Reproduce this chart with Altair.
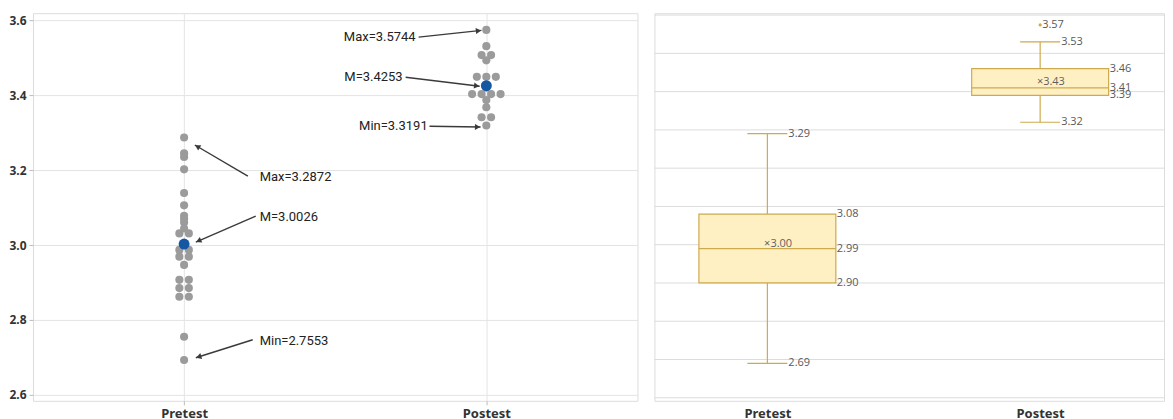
import math
import altair as alt
import pandas as pd

# ---------------- data ----------------
groups = ["Pretest", "Postest"]

pre_values = [3.2872, 3.245, 3.235, 3.202, 3.139, 3.106, 3.078, 3.070, 3.060,
              3.044, 3.031, 3.031, 2.987, 2.987, 2.969, 2.969, 2.947,
              2.907, 2.907, 2.885, 2.885, 2.862, 2.862, 2.755, 2.693]
post_values = [3.5744, 3.531, 3.507, 3.507, 3.493, 3.449, 3.449, 3.449, 3.420,
               3.403, 3.403, 3.403, 3.403, 3.387, 3.368, 3.341, 3.341, 3.3191]
group_means = [3.0026, 3.4253]

# annotations (label text, label anchor, arrow tail, arrow head) in data units
ann_text = ["Max=3.2872", "M=3.0026", "Min=2.7553", "Max=3.5744", "M=3.4253", "Min=3.3191"]
ann_align = ["left", "left", "left", "right", "right", "right"]
ann_tx = [0.250, 0.250, 0.250, 0.766, 0.723, 0.806]
ann_ty = [3.181, 3.075, 2.744, 3.555, 3.448, 3.317]
arr_x1 = [0.211, 0.237, 0.227, 0.776, 0.733, 0.812]
arr_y1 = [3.184, 3.077, 2.747, 3.555, 3.448, 3.317]
arr_x2 = [0.0355, 0.0388, 0.0388, 0.984, 0.978, 0.981]
arr_y2 = [3.267, 3.008, 2.699, 3.573, 3.424, 3.315]

# box plot statistics (right panel)
box_low = [2.69, 3.32]
box_q1 = [2.90, 3.39]
box_median = [2.99, 3.41]
box_q3 = [3.08, 3.46]
box_high = [3.29, 3.53]
box_mean = [3.0026, 3.4253]
outlier_group = [1]
outlier_value = [3.5744]
right_grid = [2.6, 2.7, 2.8, 2.9, 3.0, 3.1, 3.2, 3.3, 3.4, 3.5, 3.6]

# ---------------- layout constants ----------------
W1, H1 = 605, 388
XD1 = [-0.5, 1.5]
YD1 = [2.584, 3.619]
W2, H2 = 510, 388
XD2 = [-0.414, 1.454]
YD2 = [2.592, 3.605]
HALF_BOX = 0.251
HALF_CAP = 0.0733

GRAY = "#9b9b9b"
BLUE = "#1657a3"
BOX_FILL = "#FFF0C4"
BOX_STROKE = "#CDAA4E"

xpx1 = W1 / (XD1[1] - XD1[0])
ypx1 = H1 / (YD1[1] - YD1[0])


def dot_rows(values, step_px):
    """tied values are laid side by side, centred on the group line"""
    counts = {}
    for v in values:
        counts[v] = counts.get(v, 0) + 1
    seen = {}
    offs = []
    for v in values:
        j = seen.get(v, 0)
        seen[v] = j + 1
        n = counts[v]
        offs.append((j - (n - 1) / 2) * step_px / xpx1)
    return offs


rows = []
for gi, vals in enumerate([pre_values, post_values]):
    for v, o in zip(vals, dot_rows(vals, 9.5)):
        rows.append({"x": gi + o, "y": v})
pts = pd.DataFrame(rows)
means_df = pd.DataFrame({"x": [0, 1], "y": group_means})

ann_df = pd.DataFrame({"text": ann_text, "align": ann_align, "x": ann_tx, "y": ann_ty})
arr_rows = []
for a, b, c, d in zip(arr_x1, arr_y1, arr_x2, arr_y2):
    dxp = (c - a) * xpx1
    dyp = -(d - b) * ypx1
    ang = math.degrees(math.atan2(dxp, -dyp)) % 360
    L = math.hypot(dxp, dyp)
    back = 3.0
    hx = c - (dxp / L) * back / xpx1
    hy = d + (dyp / L) * back / ypx1
    arr_rows.append({"x1": a, "y1": b, "x2": c, "y2": d, "hx": hx, "hy": hy, "ang": ang})
arr_df = pd.DataFrame(arr_rows)

label_expr = "datum.value == 0 ? 'Pretest' : 'Postest'"

# ---------------- left panel ----------------
xs1 = alt.Scale(domain=XD1, nice=False, zero=False)
ys1 = alt.Scale(domain=YD1, nice=False, zero=False)

base_pts = alt.Chart(pts).mark_circle(size=66, color=GRAY, opacity=1).encode(
    x=alt.X("x:Q", scale=xs1, axis=alt.Axis(values=[0, 1], labelExpr=label_expr, title=None,
                                            grid=True, gridColor="#e4e4e4", domain=False,
                                            tickSize=4, tickColor="#bbbbbb",
                                            labelFontWeight="bold", labelFontSize=13,
                                            labelColor="#333333", labelPadding=3,
                                            labelFont="Noto Sans")),
    y=alt.Y("y:Q", scale=ys1, axis=alt.Axis(values=[2.6, 2.8, 3.0, 3.2, 3.4, 3.6], format=".1f",
                                            title=None, grid=True, gridColor="#e4e4e4",
                                            domain=False, tickSize=4, tickColor="#bbbbbb",
                                            labelFontWeight="bold", labelFontSize=12,
                                            labelColor="#333333", labelPadding=3,
                                            labelFont="Noto Sans")),
)
mean_pts = alt.Chart(means_df).mark_circle(size=120, color=BLUE, opacity=1).encode(
    x=alt.X("x:Q", scale=xs1), y=alt.Y("y:Q", scale=ys1))
arr_lines = alt.Chart(arr_df).mark_rule(color="#3a3a3a", strokeWidth=1.4).encode(
    x=alt.X("x1:Q", scale=xs1), y=alt.Y("y1:Q", scale=ys1), x2="x2:Q", y2="y2:Q")
arr_heads = alt.Chart(arr_df).mark_point(shape="triangle-up", filled=True, size=38,
                                         color="#3a3a3a", opacity=1).encode(
    x=alt.X("hx:Q", scale=xs1), y=alt.Y("hy:Q", scale=ys1),
    angle=alt.Angle("ang:Q", scale=None))
ann_left = alt.Chart(ann_df).transform_filter("datum.align == 'left'").mark_text(
    align="left", baseline="middle", fontSize=13, font="Roboto", color="#222222").encode(
    x=alt.X("x:Q", scale=xs1), y=alt.Y("y:Q", scale=ys1), text="text:N")
ann_right = alt.Chart(ann_df).transform_filter("datum.align == 'right'").mark_text(
    align="right", baseline="middle", fontSize=13, font="Roboto", color="#222222").encode(
    x=alt.X("x:Q", scale=xs1), y=alt.Y("y:Q", scale=ys1), text="text:N")

left = alt.layer(base_pts, mean_pts, arr_lines, arr_heads, ann_left, ann_right).properties(
    width=W1, height=H1)

# ---------------- right panel ----------------
xs2 = alt.Scale(domain=XD2, nice=False, zero=False)
ys2 = alt.Scale(domain=YD2, nice=False, zero=False)

box_df = pd.DataFrame({"i": [0, 1], "g": groups, "lo": box_low, "q1": box_q1, "med": box_median,
                       "q3": box_q3, "hi": box_high, "mean": box_mean})

grid_df = pd.DataFrame({"v": right_grid})
grid = alt.Chart(grid_df).mark_rule(color="#dcdcdc", strokeWidth=1).encode(
    y=alt.Y("v:Q", scale=ys2, axis=None))

whisk = alt.Chart(box_df).mark_rule(color=BOX_STROKE, strokeWidth=1.2).encode(
    x=alt.X("i:Q", scale=xs2, axis=alt.Axis(values=[0, 1], labelExpr=label_expr, title=None,
                                            grid=False, domain=False, ticks=False,
                                            labelFontWeight="bold", labelFontSize=13,
                                            labelColor="#333333", labelPadding=7,
                                            labelFont="Noto Sans")),
    y=alt.Y("lo:Q", scale=ys2, axis=None),
    y2="hi:Q")
caps_lo = alt.Chart(box_df).transform_calculate(
    a=f"datum.i - {HALF_CAP}", b=f"datum.i + {HALF_CAP}").mark_rule(
    color=BOX_STROKE, strokeWidth=1.2).encode(
    x=alt.X("a:Q", scale=xs2), x2="b:Q", y=alt.Y("lo:Q", scale=ys2))
caps_hi = alt.Chart(box_df).transform_calculate(
    a=f"datum.i - {HALF_CAP}", b=f"datum.i + {HALF_CAP}").mark_rule(
    color=BOX_STROKE, strokeWidth=1.2).encode(
    x=alt.X("a:Q", scale=xs2), x2="b:Q", y=alt.Y("hi:Q", scale=ys2))
boxes = alt.Chart(box_df).transform_calculate(
    a=f"datum.i - {HALF_BOX}", b=f"datum.i + {HALF_BOX}").mark_rect(
    fill=BOX_FILL, stroke=BOX_STROKE, strokeWidth=1.2, opacity=1).encode(
    x=alt.X("a:Q", scale=xs2), x2="b:Q", y=alt.Y("q1:Q", scale=ys2), y2="q3:Q")
medians = alt.Chart(box_df).transform_calculate(
    a=f"datum.i - {HALF_BOX}", b=f"datum.i + {HALF_BOX}").mark_rule(
    color=BOX_STROKE, strokeWidth=1.2).encode(
    x=alt.X("a:Q", scale=xs2), x2="b:Q", y=alt.Y("med:Q", scale=ys2))
mean_lab = alt.Chart(box_df).transform_calculate(
    a="datum.i - 0.012", t="'×' + format(datum.mean, '.2f')").mark_text(
    align="left", baseline="middle", fontSize=11, font="Open Sans", color="#5f5f5f").encode(
    x=alt.X("a:Q", scale=xs2), y=alt.Y("mean:Q", scale=ys2), text="t:N")

lab_rows = []
for i in range(2):
    for v, k in [(box_low[i], "cap"), (box_high[i], "cap"), (box_q1[i], "box"),
                 (box_median[i], "box"), (box_q3[i], "box")]:
        lab_rows.append({"i": i, "v": v, "k": k})
lab_df = pd.DataFrame(lab_rows)
labels = alt.Chart(lab_df).transform_calculate(
    a=f"datum.i + (datum.k == 'cap' ? {HALF_CAP} : {HALF_BOX})").mark_text(
    align="left", baseline="middle", dx=1, fontSize=11, font="Open Sans",
    color="#595959").encode(
    x=alt.X("a:Q", scale=xs2), y=alt.Y("v:Q", scale=ys2), text=alt.Text("v:Q", format=".2f"))

out_df = pd.DataFrame({"i": outlier_group, "v": outlier_value})
out_pt = alt.Chart(out_df).mark_circle(size=10, color=BOX_STROKE, opacity=1).encode(
    x=alt.X("i:Q", scale=xs2), y=alt.Y("v:Q", scale=ys2))
out_lab = alt.Chart(out_df).mark_text(align="left", baseline="middle", dx=2, fontSize=11,
                                      font="Open Sans", color="#595959").encode(
    x=alt.X("i:Q", scale=xs2), y=alt.Y("v:Q", scale=ys2), text=alt.Text("v:Q", format=".2f"))

right = alt.layer(grid, whisk, caps_lo, caps_hi, boxes, medians, mean_lab, labels, out_pt,
                  out_lab).properties(width=W2, height=H2)

chart = alt.hconcat(left, right, spacing=15).properties(
    padding={"left": 0, "top": 4, "right": 0, "bottom": 0}
).configure_view(stroke="#9e9e9e", strokeWidth=1.5).configure(background="white")

chart.save("out.html", embed_options={"renderer": "svg", "actions": False})
